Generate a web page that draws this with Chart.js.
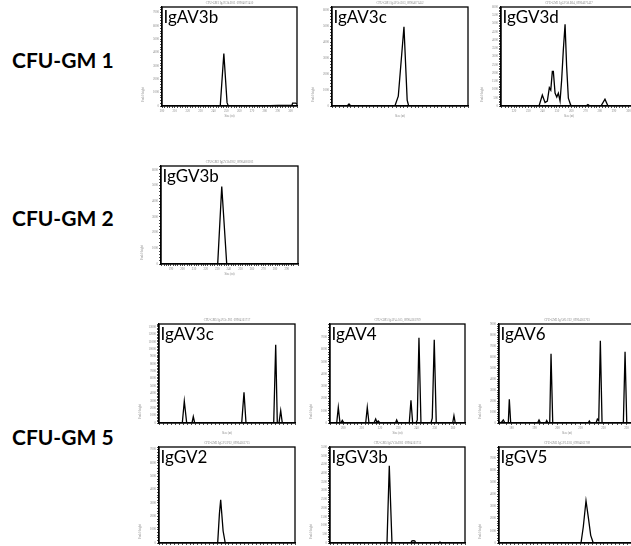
<!DOCTYPE html>
<html>
<head>
<meta charset="utf-8">
<script src="https://cdn.jsdelivr.net/npm/chart.js@4.4.1/dist/chart.umd.min.js"></script>
<style>
  html, body { margin: 0; padding: 0; background: #fff; }
  body { width: 631px; height: 546px; position: relative; overflow: hidden; }
  .row-label { position: absolute; left: 12px; font-family: Lato, sans-serif; font-weight: bold;
               font-size: 21px; line-height: 21px; color: #000; white-space: nowrap; }
  .panel { position: absolute; }
</style>
</head>
<body>
<script>
// Row labels (sample names)
const rowLabels = ["CFU-GM 1", "CFU-GM 2", "CFU-GM 5"];

// Fragment sizes (nt) and peak heights

// CFU-GM 1
const gm1AV3bSize = [200, 245.3, 248.1, 250.6, 251.6, 278, 290.5, 301, 301.6, 304, 305];
const gm1AV3bHeight = [0, 0, 3920, 250, 0, 0, 40, 40, 210, 210, 150];

const gm1AV3cSize = [225.8, 233.8, 234.8, 235.8, 259.1, 260.9, 263.9, 265.6, 266.4, 297.8];
const gm1AV3cHeight = [0, 0, 124, 0, 0, 620, 4960, 370, 0, 0];

const gm1GV3dSize = [210.9, 237.5, 239.8, 241.7, 243.3, 244.7, 245.7, 246.8, 247.5, 248.7, 249.9, 251.0,
  252.2, 253.3, 254.5, 255.7, 256.8, 258.0, 259.6, 260.5, 270.3, 271.7, 273.1, 280.8, 283.6, 285.7, 306];
const gm1GV3dHeight = [0, 0, 660, 210, 300, 1110, 960, 2100, 2100, 780, 540, 780,
  300, 1560, 3420, 4950, 2400, 480, 60, 0, 0, 90, 0, 0, 410, 0, 0];

// CFU-GM 2
const gm2GV3bSize = [181.4, 230.4, 233.9, 238.2, 299.8];
const gm2GV3bHeight = [0, 0, 4940, 0, 0];

// CFU-GM 5
const gm5AV3cSize = [178.2, 189.85, 190.85, 192.05, 194.7, 195.35, 196.05, 219.55, 220.7, 221.7,
  235.55, 236.55, 237.35, 238.2, 239.05, 239.85, 246.2];
const gm5AV3cHeight = [0, 0, 2950, 0, 0, 860, 0, 0, 4150, 0,
  0, 10590, 0, 0, 1675, 0, 0];

const gm5AV4Size = [192.7, 196.36, 197.24, 198.16, 198.71, 199.42, 200.35, 212.21, 213.08, 214.01,
  216.74, 217.67, 218.38, 219.09, 220.02, 228.49, 229.15, 229.86, 236.03, 236.96, 237.89,
  239.69, 240.4, 241.33, 242.43, 247.89, 248.6, 249.69, 250.79, 259.75, 260.46, 261.17, 266.5];
const gm5AV4Height = [0, 0, 1270, 0, 0, 220, 0, 0, 1270, 0,
  0, 325, 60, 160, 0, 0, 245, 0, 0, 1860, 0,
  0, 245, 6970, 0, 0, 405, 6800, 0, 0, 600, 0, 0];

const gm5AV6Size = [174.6, 175.47, 176.47, 177.21, 178.64, 179.08, 179.69, 191.34, 191.99, 192.63,
  194.82, 195.34, 195.9, 196.64, 197.21, 197.95, 213.3, 213.86, 214.38, 216.77, 217.34, 217.95,
  218.64, 219.38, 228.64, 229.38, 230.12, 233.7];
const gm5AV6Height = [120, 0, 270, 0, 0, 2160, 0, 0, 270, 0,
  0, 225, 0, 0, 6300, 0, 0, 180, 0, 0, 360, 200,
  7470, 0, 0, 6480, 0, 0];

const gm5GV2Size = [180, 210.2, 211.1, 211.75, 213.0, 214.1, 250];
const gm5GV2Height = [0, 0, 2200, 3240, 900, 0, 0];

const gm5GV3bSize = [180, 209.55, 210.74, 212.14, 221.83, 222.5, 223.18, 223.9, 224.58, 236.25, 237.0, 237.8, 250];
const gm5GV3bHeight = [0, 0, 4430, 0, 0, 120, 140, 120, 0, 0, 55, 0, 0];

const gm5GV5Size = [180, 222.2, 223.39, 224.78, 225.96, 227.2, 228.54, 250];
const gm5GV5Height = [0, 0, 1340, 3475, 2130, 630, 0, 0];

// frame, name inside the plot, run name above it, y title
const panelDecor = {
  id: "panelDecor",
  afterDraw(chart, args, opts) {
    const a = chart.chartArea;
    const ctx = chart.ctx;
    ctx.save();
    ctx.strokeStyle = "#000";
    ctx.lineWidth = 1.3;
    ctx.strokeRect(a.left, a.top, a.right - a.left, a.bottom - a.top);

    ctx.fillStyle = "#000";
    ctx.font = "17px Lato";
    ctx.textAlign = "left";
    ctx.textBaseline = "alphabetic";
    ctx.fillText(opts.name, a.left + 1.5, a.top + 15.7);

    ctx.fillStyle = "#888";
    ctx.font = '3px "Liberation Serif"';
    ctx.textAlign = "center";
    ctx.fillText(opts.run, (a.left + a.right) / 2, a.top - 3);

    ctx.translate(a.left - 18, a.bottom - 4);
    ctx.rotate(-Math.PI / 2);
    ctx.textAlign = "left";
    ctx.fillText("Peak Height", 0, 0);
    ctx.restore();
  }
};

const tickFont = { size: 3, family: "Liberation Serif" };

function makePanel(p) {
  const L = p.box[0], T = p.box[1], R = p.box[2], B = p.box[3];
  const holder = document.createElement("div");
  holder.className = "panel";
  holder.style.left = (L - 22) + "px";
  holder.style.top = (T - 8) + "px";
  holder.style.width = (R - L + 34) + "px";
  holder.style.height = (B - T + 20) + "px";
  const cv = document.createElement("canvas");
  holder.appendChild(cv);
  document.body.appendChild(holder);

  new Chart(cv, {
    type: "line",
    data: {
      datasets: [{
        data: p.size.map((s, i) => ({ x: s, y: p.height[i] })),
        borderColor: "#000",
        borderWidth: 1.3,
        pointRadius: 0,
        tension: 0,
        fill: false
      }]
    },
    options: {
      responsive: true,
      maintainAspectRatio: false,
      animation: false,
      layout: { padding: { top: 8, right: 12, left: 0, bottom: 0 } },
      plugins: {
        legend: { display: false },
        tooltip: { enabled: false },
        panelDecor: { name: p.name, run: p.run }
      },
      scales: {
        x: {
          type: "linear",
          min: p.xMin,
          max: p.xMax,
          afterFit: (s) => { s.height = 12; },
          grid: { drawOnChartArea: false, tickLength: 2, color: "#000", tickWidth: 0.7 },
          border: { color: "#000", width: 1.3 },
          ticks: {
            stepSize: 2,
            autoSkip: false,
            maxRotation: 0,
            padding: 1,
            font: tickFont,
            color: "#888",
            callback: (v) => (Math.abs(v % 10) < 1e-6 ? String(Math.round(v)) : "")
          },
          title: { display: true, text: "Size (nt)", font: tickFont, color: "#888", padding: 0 }
        },
        y: {
          min: 0,
          max: p.yMax,
          afterFit: (s) => { s.width = 22; },
          grid: { drawOnChartArea: false, tickLength: 2, color: "#000", tickWidth: 0.7 },
          border: { color: "#000", width: 1.3 },
          ticks: {
            stepSize: p.yStep / 5,
            autoSkip: false,
            padding: 1,
            font: tickFont,
            color: "#888",
            callback: (v) => (Math.abs(v % p.yStep) < 1e-6 ? String(v) : "")
          }
        }
      }
    },
    plugins: [panelDecor]
  });
}

// row labels
const rowTops = [49, 207, 426];
rowLabels.forEach((t, i) => {
  const d = document.createElement("div");
  d.className = "row-label";
  d.style.top = rowTops[i] + "px";
  d.textContent = t;
  document.body.appendChild(d);
});

const panels = [
  { name: "IgAV3b", run: "CFU-GM1 IgAV3b.D03_09904071410", box: [162, 7, 297, 106],
    size: gm1AV3bSize, height: gm1AV3bHeight, xMin: 200, xMax: 305, yMax: 7400, yStep: 1000 },
  { name: "IgAV3c", run: "CFU-GM1 IgAV3c.E03_09904071452", box: [332, 7, 468, 106],
    size: gm1AV3cSize, height: gm1AV3cHeight, xMin: 225.8, xMax: 297.8, yMax: 6200, yStep: 1000 },
  { name: "IgGV3d", run: "CFU-GM1 IgGV3d.B04_09904071427", box: [501, 7, 637, 106],
    size: gm1GV3dSize, height: gm1GV3dHeight, xMin: 210.9, xMax: 306, yMax: 6000, yStep: 500 },
  { name: "IgGV3b", run: "CFU-GM2 IgGV3b.H02_09904081103", box: [161, 166, 298, 264],
    size: gm2GV3bSize, height: gm2GV3bHeight, xMin: 181.4, xMax: 299.8, yMax: 6250, yStep: 1000 },
  { name: "IgAV3c", run: "CFU-GM5 IgAV3c.F03_09904161717", box: [159, 324, 295, 423],
    size: gm5AV3cSize, height: gm5AV3cHeight, xMin: 178.2, xMax: 246.2, yMax: 13400, yStep: 1000 },
  { name: "IgAV4", run: "CFU-GM5 IgAV4.A05_09904161709", box: [330, 324, 465, 423],
    size: gm5AV4Size, height: gm5AV4Height, xMin: 192.7, xMax: 266.5, yMax: 8100, yStep: 1000 },
  { name: "IgAV6", run: "CFU-GM5 IgAV6.C02_09904161703", box: [499, 324, 635, 423],
    size: gm5AV6Size, height: gm5AV6Height, xMin: 174.6, xMax: 233.7, yMax: 9000, yStep: 1000 },
  { name: "IgGV2", run: "CFU-GM5 IgGV2.F02_09904161715", box: [159, 447, 295, 543],
    size: gm5GV2Size, height: gm5GV2Height, xMin: 180, xMax: 250, yMax: 7200, yStep: 1000 },
  { name: "IgGV3b", run: "CFU-GM5 IgGV3b.H02_09904161715", box: [330, 447, 465, 543],
    size: gm5GV3bSize, height: gm5GV3bHeight, xMin: 180, xMax: 250, yMax: 5500, yStep: 500 },
  { name: "IgGV5", run: "CFU-GM5 IgGV5.E03_09904161709", box: [499, 447, 635, 543],
    size: gm5GV5Size, height: gm5GV5Height, xMin: 180, xMax: 250, yMax: 7900, yStep: 1000 }
];

panels.forEach(makePanel);
</script>
</body>
</html>
